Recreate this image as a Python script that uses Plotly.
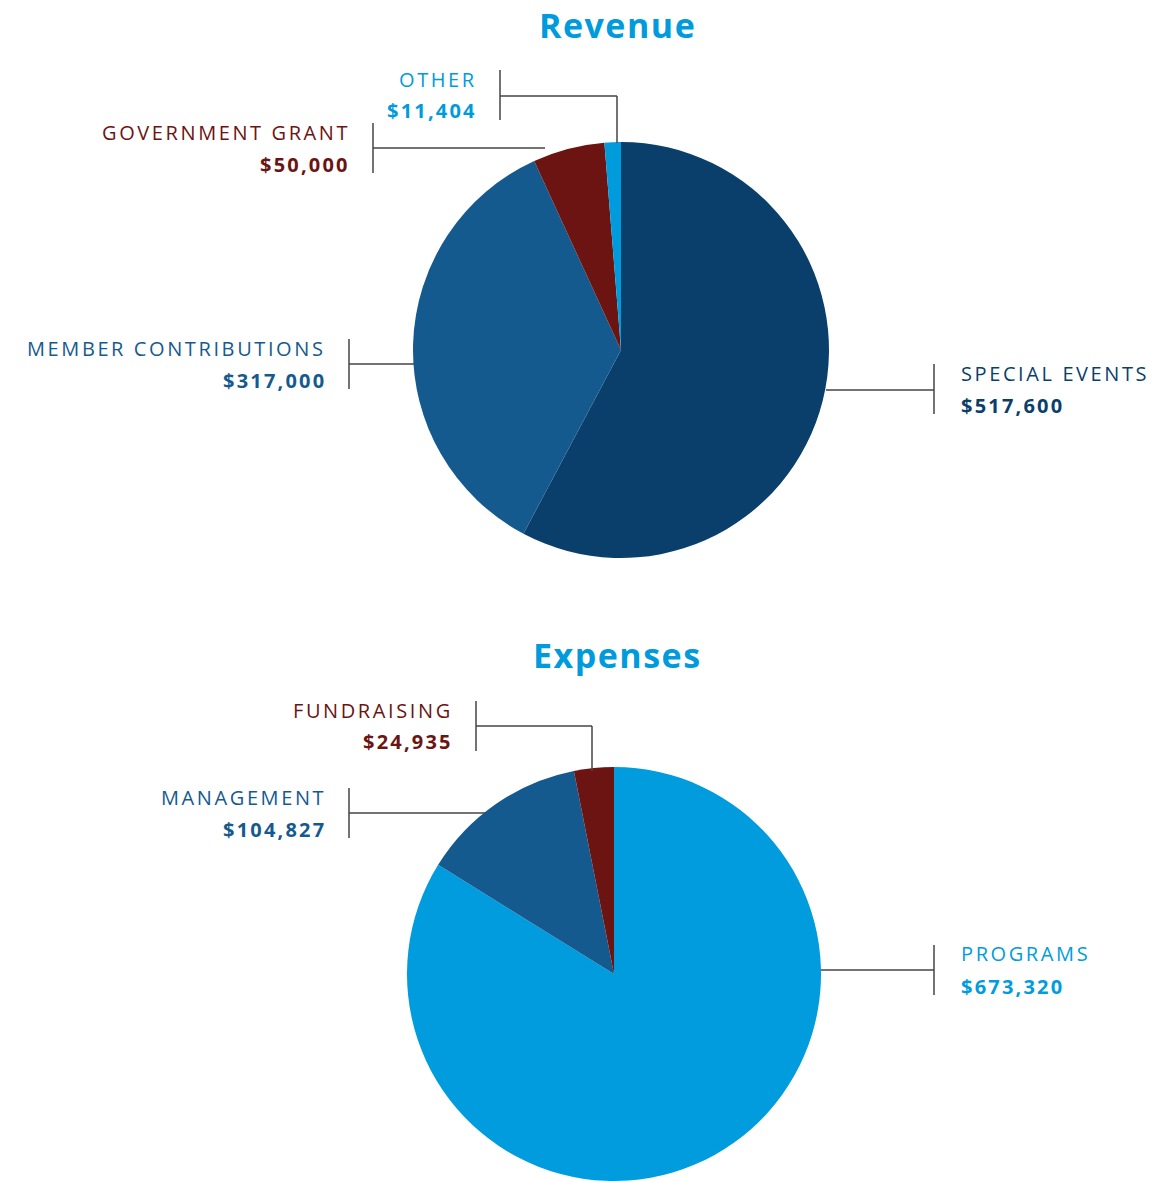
import plotly.graph_objects as go

W, H = 1158, 1181

# ---- data ----
rev_labels = ["SPECIAL EVENTS", "MEMBER CONTRIBUTIONS", "GOVERNMENT GRANT", "OTHER"]
rev_values = [517600, 317000, 50000, 11404]
rev_colors = ["#0B3F6B", "#155A8F", "#6B1412", "#009BDD"]

exp_labels = ["PROGRAMS", "MANAGEMENT", "FUNDRAISING"]
exp_values = [673320, 104827, 24935]
exp_colors = ["#009CDE", "#155A8F", "#6B1412"]


def px(x):
    return x / W


def py(y):
    return 1 - y / H


def dom(cx, cy, r):
    return dict(x=[px(cx - r), px(cx + r)], y=[max(0, py(cy + r)), min(1, py(cy - r))])


fig = go.Figure()
fig.add_trace(go.Pie(
    labels=rev_labels, values=rev_values, sort=False, direction="clockwise",
    marker=dict(colors=rev_colors, line=dict(width=0)), textinfo="none",
    hoverinfo="skip", showlegend=False, domain=dom(621, 350, 208),
))
fig.add_trace(go.Pie(
    labels=exp_labels, values=exp_values, sort=False, direction="clockwise",
    marker=dict(colors=exp_colors, line=dict(width=0)), textinfo="none",
    hoverinfo="skip", showlegend=False, domain=dom(614, 974, 207),
))

FONT = "Open Sans"
annotations = []
shapes = []
LINE = dict(color="#444444", width=1.5)


def seg(x0, y0, x1, y1):
    shapes.append(dict(type="line", xref="paper", yref="paper",
                       x0=px(x0), y0=py(y0), x1=px(x1), y1=py(y1), line=LINE))


def spaced(txt, ls):
    return '<span style="letter-spacing:%spx">%s</span>' % (ls, txt)


def callout(label, value, color, bar_x, mid_y, side, path):
    # vertical bar
    seg(bar_x, mid_y - 25, bar_x, mid_y + 25)
    # connector path
    for (a, b) in zip(path[:-1], path[1:]):
        seg(a[0], a[1], b[0], b[1])
    if side == "left":
        tx, anchor = bar_x - 21, "right"
    else:
        tx, anchor = bar_x + 25, "left"
    annotations.append(dict(x=px(tx), y=py(mid_y - 16), xref="paper", yref="paper",
                            text=spaced(label, 2.6), showarrow=False, xanchor=anchor,
                            yanchor="middle",
                            font=dict(family=FONT, size=20, color=color)))
    annotations.append(dict(x=px(tx), y=py(mid_y + 16), xref="paper", yref="paper",
                            text="<b>" + spaced("$" + f"{value:,}", 2.2) + "</b>",
                            showarrow=False, xanchor=anchor, yanchor="middle",
                            font=dict(family=FONT, size=20, color=color)))


# Revenue callouts
callout(rev_labels[3], rev_values[3], rev_colors[3], 500, 95, "left",
        [(500, 96), (617, 96), (617, 143)])
callout(rev_labels[2], rev_values[2], rev_colors[2], 373, 148, "left",
        [(373, 148), (545, 148)])
callout(rev_labels[1], rev_values[1], rev_colors[1], 349, 364, "left",
        [(349, 364), (414, 364)])
callout(rev_labels[0], rev_values[0], rev_colors[0], 934, 389, "right",
        [(826, 390), (934, 390)])

# Expenses callouts
callout(exp_labels[2], exp_values[2], exp_colors[2], 476, 726, "left",
        [(476, 726), (592, 726), (592, 771)])
callout(exp_labels[1], exp_values[1], exp_colors[1], 349, 813, "left",
        [(349, 813), (485, 813)])
callout(exp_labels[0], exp_values[0], exp_colors[0], 934, 970, "right",
        [(821, 970), (934, 970)])

# Titles
for t, y in [("Revenue", 25), ("Expenses", 655)]:
    annotations.append(dict(x=px(617), y=py(y), xref="paper", yref="paper",
                            text="<b>" + spaced(t, 1.5) + "</b>", showarrow=False,
                            xanchor="center", yanchor="middle",
                            font=dict(family=FONT, size=34, color="#009BDD")))

fig.update_layout(
    width=W, height=H, margin=dict(l=0, r=0, t=0, b=0),
    paper_bgcolor="white", plot_bgcolor="white",
    annotations=annotations, shapes=shapes,
)

fig.write_html("out.html", config={"displayModeBar": False})
